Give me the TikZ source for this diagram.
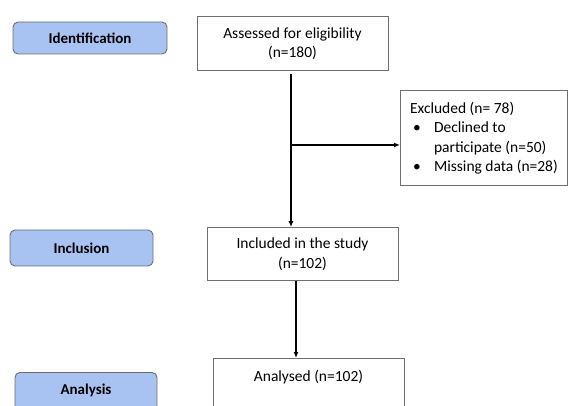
\documentclass[tikz,border=0pt]{standalone}
\usepackage{fontspec}
\setmainfont{Carlito}
\usetikzlibrary{arrows.meta}
\definecolor{stageblue}{RGB}{168,194,242}
\definecolor{boxgray}{RGB}{110,110,110}
\tikzset{
  stage/.style={draw=boxgray, fill=stageblue, rounded corners=5pt, line width=0.9pt,
    font=\fontsize{15}{17}\selectfont\bfseries, minimum width=144pt},
  flowbox/.style={draw=boxgray, fill=white, line width=0.9pt, align=center,
    font=\fontsize{15.5}{19.5}\selectfont},
  flowarrow/.style={black, line width=1.2pt, -{Latex[length=6pt,width=5pt]}}
}
\begin{document}
\begin{tikzpicture}[x=1pt, y=-1pt]
  \useasboundingbox (0,0) rectangle (568,406);
  \clip (0,0) rectangle (568,406);
  % stage labels on the left
  \node[stage, minimum width=154pt, minimum height=32pt] (identification) at (90,38) {Identification};
  \node[stage, minimum width=143pt, minimum height=36pt] (inclusion) at (81.5,248) {Inclusion};
  \node[stage, minimum width=142pt, anchor=north, text height=10pt, text depth=40pt, inner ysep=12pt] (analysis) at (86,372) {Analysis};
  % flow boxes
  \node[flowbox, minimum width=191pt, minimum height=54pt] (assessed) at (292.5,43.5) {Assessed for eligibility\\(n=180)};
  \node[flowbox, minimum width=191pt, minimum height=53pt] (included) at (302.5,254) {Included in the study\\(n=102)};
  \node[flowbox, minimum width=191pt, anchor=north, text height=10pt, text depth=40pt, inner ysep=13pt] (analysed) at (308.5,358) {Analysed (n=102)};
  \node[flowbox, align=left, anchor=north west, minimum width=167pt, minimum height=95pt,
        inner xsep=9pt, inner ysep=9pt] (excluded) at (400,90)
    {Excluded (n= 78)\\
     \makebox[24pt][l]{\hspace{3pt}\textbullet}Declined to\\
     \makebox[24pt][l]{}participate (n=50)\\
     \makebox[24pt][l]{\hspace{3pt}\textbullet}Missing data (n=28)};
  % connectors
  \coordinate (split) at ([xshift=-1.5pt]assessed.south |- 0,145);
  \draw[flowarrow, shorten <=3pt] ([xshift=-1.5pt]assessed.south) -- ([xshift=-1.5pt]assessed.south |- included.north);
  \draw[flowarrow] (split) -- (split -| excluded.west);
  \draw[flowarrow] ([xshift=-6.5pt]included.south) -- ([xshift=-6.5pt]included.south |- analysed.north);
\end{tikzpicture}
\end{document}
